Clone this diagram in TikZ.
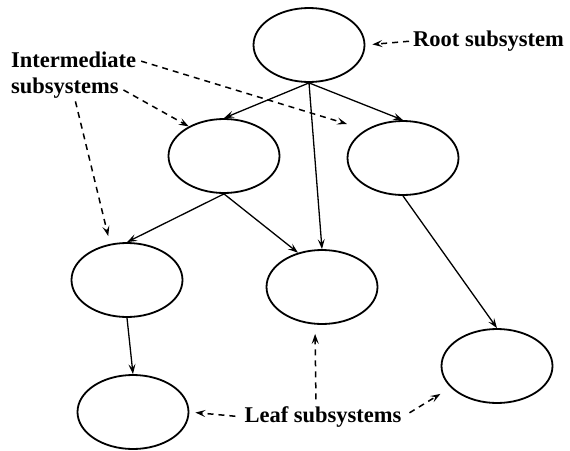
\documentclass[tikz,border=0pt]{standalone}
\usepackage{fontspec}
\setmainfont{Liberation Serif}
\usetikzlibrary{shapes.geometric,arrows.meta}

\tikzset{
  sub/.style = {ellipse, draw=black, line width=1.8pt, inner sep=0pt,
    minimum width=111pt, minimum height=74pt},
  note/.style = {inner sep=1pt, font=\fontsize{22.5}{27}\selectfont\bfseries},
  link/.style = {->, line width=1.3pt},
  hint/.style = {->, line width=1.5pt, dash pattern=on 6pt off 5pt}
}

\begin{document}
\begin{tikzpicture}[x=1pt, y=-1pt,
                    >={Stealth[length=10pt, width=7pt, inset=4pt]}]
\useasboundingbox (0,0) rectangle (570,450);
% subsystems
\node [sub] (root)  at (309,45)  {};
\node [sub] (midl)  at (224,156) {};
\node [sub] (midr)  at (403,158) {};
\node [sub] (lowl)  at (127,280) {};
\node [sub] (lowm)  at (322,287) {};
\node [sub] (leafl) at (133,412) {};
\node [sub] (leafr) at (497,366) {};
% labels
\node [note, anchor=west] (rootlbl)  at (412,41)  {Root subsystem};
\node [note, anchor=west] (interA)   at (10,60)   {Intermediate};
\node [note, anchor=west] (interB)   at (10,88)   {subsystems};
\node [note]              (leaflbl)  at (323,417) {Leaf subsystems};
\coordinate (hintr) at (347,124);
% hierarchy
\draw [link] (root.south) -- (midl.north);
\draw [link] (root.south) -- (lowm.north);
\draw [link] (root.south) -- (midr.north);
\draw [link] (midl.south) -- (lowl.north);
\draw [link] (midl.south) -- (lowm.125);
\draw [link] (midr.south) -- (leafr.north);
\draw [link] (lowl.south) -- (leafl.north);
% pointers
\draw [hint, shorten <=3pt, shorten >=7pt] (rootlbl.west) -- (root.east);
\draw [hint, shorten <=4pt] (interA.east) -- (hintr);
\draw [hint, shorten <=4pt] (interB.east) -- (midl.140);
\draw [hint, shorten <=2pt, shorten >=8pt] ([xshift=10pt]interB.south) -- (lowl.115);
\draw [hint, shorten <=8pt, shorten >=6pt] (leaflbl.west) -- (leafl.east);
\draw [hint, shorten <=6pt, shorten >=9pt] ([xshift=-7pt]leaflbl.north) -- ([xshift=-7pt]lowm.south);
\draw [hint, shorten <=8pt, shorten >=12pt] (leaflbl.east) -- (leafr.205);
\end{tikzpicture}
\end{document}
